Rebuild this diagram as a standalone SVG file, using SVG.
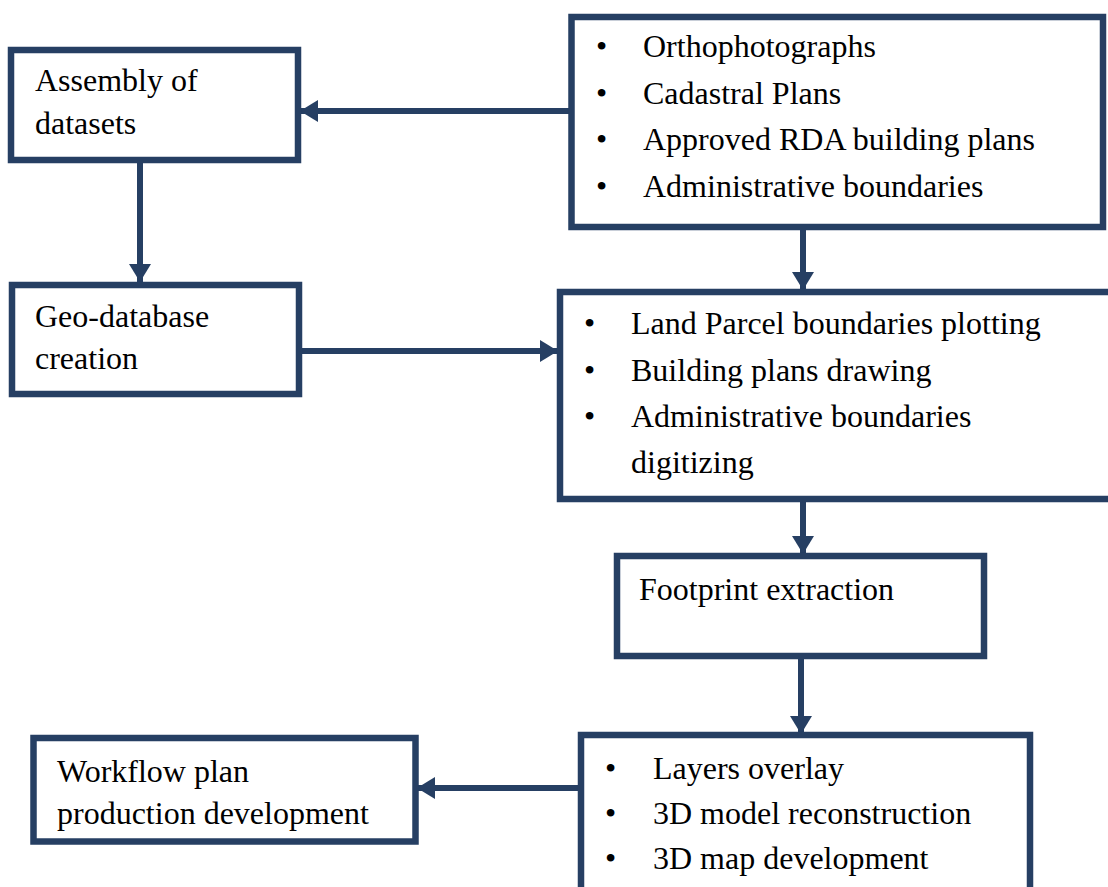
<svg xmlns="http://www.w3.org/2000/svg" width="1108" height="887" viewBox="0 0 1108 887">
<defs>
<style>
.box{fill:#fff;stroke:#263F63;stroke-width:6.5}
.t{font-family:"Liberation Serif","Times New Roman",serif;font-size:32px;fill:#000}
.c{fill:none;stroke:#263F63;stroke-width:6}
</style>
<marker id="ah" markerUnits="userSpaceOnUse" markerWidth="20" markerHeight="22" refX="18" refY="11" orient="auto" viewBox="0 0 20 22">
<path d="M0,0 L18,11 L0,22 Z" fill="#263F63"/>
</marker>
</defs>
<rect width="1108" height="887" fill="#fff"/>
<g id="connectors">
<line class="c" x1="571" y1="111" x2="300" y2="111" marker-end="url(#ah)"/>
<line class="c" x1="140" y1="160" x2="140" y2="282" marker-end="url(#ah)"/>
<line class="c" x1="803" y1="227" x2="803" y2="290" marker-end="url(#ah)"/>
<line class="c" x1="299" y1="351" x2="558" y2="351" marker-end="url(#ah)"/>
<line class="c" x1="803" y1="499" x2="803" y2="554" marker-end="url(#ah)"/>
<line class="c" x1="801" y1="656" x2="801" y2="734" marker-end="url(#ah)"/>
<line class="c" x1="581" y1="788" x2="417" y2="788" marker-end="url(#ah)"/>
</g>
<g id="assembly">
<rect class="box" x="11" y="50" width="287" height="110"/>
<text class="t" x="35" y="91">Assembly of</text>
<text class="t" x="35" y="134">datasets</text>
</g>
<g id="datasets">
<rect class="box" x="571.5" y="17" width="531.5" height="210"/>
<text class="t" x="596" y="57">•</text><text class="t" x="643" y="57">Orthophotographs</text>
<text class="t" x="596" y="103.5">•</text><text class="t" x="643" y="103.5">Cadastral Plans</text>
<text class="t" x="596" y="150">•</text><text class="t" x="643" y="150">Approved RDA building plans</text>
<text class="t" x="596" y="196.5">•</text><text class="t" x="643" y="196.5">Administrative boundaries</text>
</g>
<g id="geodb">
<rect class="box" x="12" y="285" width="287" height="109"/>
<text class="t" x="35" y="327">Geo-database</text>
<text class="t" x="35" y="369">creation</text>
</g>
<g id="digitizing">
<rect class="box" x="560" y="292" width="560" height="207"/>
<text class="t" x="584" y="334">•</text><text class="t" x="631" y="334">Land Parcel boundaries plotting</text>
<text class="t" x="584" y="381">•</text><text class="t" x="631" y="381">Building plans drawing</text>
<text class="t" x="584" y="427">•</text><text class="t" x="631" y="427">Administrative boundaries</text>
<text class="t" x="631" y="473">digitizing</text>
</g>
<g id="footprint">
<rect class="box" x="617" y="556" width="367" height="100"/>
<text class="t" x="639" y="600">Footprint extraction</text>
</g>
<g id="overlay">
<rect class="box" x="581" y="735" width="449" height="170"/>
<text class="t" x="605" y="779">•</text><text class="t" x="653" y="779">Layers overlay</text>
<text class="t" x="605" y="824">•</text><text class="t" x="653" y="824">3D model reconstruction</text>
<text class="t" x="605" y="869">•</text><text class="t" x="653" y="869">3D map development</text>
</g>
<g id="workflow">
<rect class="box" x="33.5" y="738" width="382" height="103.5"/>
<text class="t" x="57" y="782">Workflow plan</text>
<text class="t" x="57" y="824">production development</text>
</g>
</svg>
